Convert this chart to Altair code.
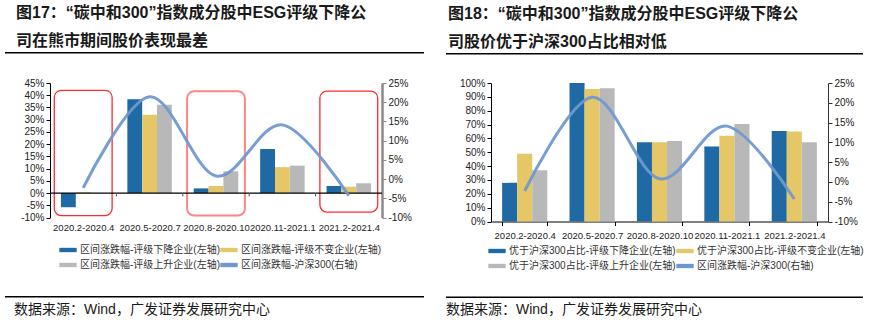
import altair as alt
import pandas as pd

categories = ["2020.2-2020.4", "2020.5-2020.7", "2020.8-2020.10", "2020.11-2021.1", "2021.2-2021.4"]

# Figure 17: interval returns (%) - left axis
f17_down = [-5.8, 38.4, 1.9, 18.0, 2.9]
f17_same = [0.3, 32.0, 2.9, 10.6, 2.6]
f17_up = [0.0, 36.1, 8.9, 11.2, 4.0]
# Figure 18: share outperforming HS300 (%) - left axis
f18_down = [27.9, 100.0, 57.2, 54.1, 65.4]
f18_same = [49.0, 95.7, 57.2, 62.0, 64.9]
f18_up = [37.0, 96.2, 58.2, 70.4, 57.2]
# HS300 interval return (%) - right axis
hs300 = [-2.3, 21.4, 0.8, 14.1, -4.3]

f17_series = ["区间涨跌幅-评级下降企业(左轴)", "区间涨跌幅-评级不变企业(左轴)",
              "区间涨跌幅-评级上升企业(左轴)", "区间涨跌幅-沪深300(右轴)"]
f18_series = ["优于沪深300占比-评级下降企业(左轴)", "优于沪深300占比-评级不变企业(左轴)",
              "优于沪深300占比-评级上升企业(左轴)", "区间涨跌幅-沪深300(右轴)"]

f17_title = ["图17：“碳中和300”指数成分股中ESG评级下降公", "司在熊市期间股价表现最差"]
f18_title = ["图18：“碳中和300”指数成分股中ESG评级下降公", "司股价优于沪深300占比相对低"]
source_text = "数据来源：Wind，广发证券发展研究中心"

# highlight boxes in figure 17 (left-axis units)
box_cats = [categories[0], categories[2], categories[4]]
box_top = [42.0, 41.6, 41.7]
box_bottom = [-9.2, -9.2, -7.8]
box_colors = ["#FF2B2B", "#FF8585", "#FF2B2B"]
box_strokes = [1.3, 2.0, 1.3]

# figure 17 baseline band and the small ticks under it (left-axis units)
zero_hi = 0.25
zero_lo = -0.25
zero_tick_lo = -1.4

f17_left_ticks = list(range(-10, 50, 5))
f18_left_ticks = list(range(0, 110, 10))
right_ticks = list(range(-10, 30, 5))

colors = ["#1F69A4", "#E5C767", "#B8B8B8", "#7098D0"]
FONT = "Liberation Sans, Noto Sans CJK SC"
LINE_KEY = "区间涨跌幅-沪深300(右轴)"
PAD_IN = 0.33
PAD_OUT = 0.165


def make_legend(lx, ly, enc_mode):
    kw = dict(title=None, orient="none", legendX=lx, legendY=ly, columns=2, direction="horizontal",
              symbolType="M-1,-0.25H1V0.25H-1Z", symbolSize=300, symbolStrokeWidth=0,
              labelFont=FONT, labelFontSize=10, labelColor="#333333", labelLimit=400,
              columnPadding=0, rowPadding=1, labelOffset=3)
    expr = ("datum.value === '" + LINE_KEY + "' ? 'M-1,-0.08H1V0.08H-1Z' : 'M-1,-0.25H1V0.25H-1Z'")
    if enc_mode == "flat":
        kw["encode"] = {"symbols": {"shape": {"signal": expr}}}
    elif enc_mode == "update":
        kw["encode"] = {"symbols": {"update": {"shape": {"signal": expr}}}}
    return alt.Legend(**kw)


def panel(series, down, same, up, left_domain, left_ticks, W, H, title, title_dx,
          lx, ly, deco, fig17, enc_mode):
    rows = []
    for i, c in enumerate(categories):
        for s, vals in zip(series[:3], (down, same, up)):
            rows.append({"cat": c, "series": s, "value": vals[i]})
    bars_df = pd.DataFrame(rows)
    line_df = pd.DataFrame({"cat": categories, "series": series[3], "value": hs300})

    def xscale():
        return alt.Scale(type="band", domain=categories, paddingInner=PAD_IN, paddingOuter=PAD_OUT)

    def xscale_full():
        return alt.Scale(type="band", domain=categories, paddingInner=0, paddingOuter=0)

    def lscale():
        return alt.Scale(domain=left_domain, nice=False, zero=False)

    rscale = alt.Scale(domain=[-10, 25], nice=False, zero=False)
    group_w = W / (len(categories) - PAD_IN + 2 * PAD_OUT) * (1 - PAD_IN)

    xaxis = alt.Axis(title=None, orient="bottom", labelAngle=0, labelFont=FONT, labelFontSize=9.5,
                     labelColor="#222222", labelPadding=5, labelLimit=200, grid=False,
                     domain=not fig17, domainColor="black", domainWidth=1,
                     ticks=not fig17, tickBand="extent", tickColor="black", tickSize=4)
    yl = alt.Axis(title=None, values=left_ticks, labelExpr="datum.value + '%'",
                  labelFont=FONT, labelFontSize=10, labelColor="#222222", grid=False,
                  domainColor="black", tickColor="black", tickSize=4, labelPadding=2)
    rcol = "#8A8A8A" if fig17 else "#333333"
    yr = alt.Axis(title=None, orient="right", values=right_ticks, labelExpr="datum.value + '%'",
                  labelFont=FONT, labelFontSize=10, labelColor="#222222", grid=False,
                  domainColor=rcol, domainWidth=2.5 if fig17 else 1,
                  tickColor=rcol, tickSize=4, labelPadding=2)

    layers = []
    if fig17:
        box_df = pd.DataFrame({"cat": box_cats, "top": box_top, "bottom": box_bottom,
                               "col": box_colors, "sw": box_strokes})
        rects = alt.Chart(box_df).mark_rect(
            fill="transparent", cornerRadius=7, width=alt.RelativeBandSize(1.3)
        ).encode(
            x=alt.X("cat:N", scale=xscale(), axis=None, sort=categories),
            y=alt.Y("top:Q", scale=lscale(), axis=None),
            y2="bottom:Q",
            stroke=alt.Stroke("col:N", scale=None),
            strokeWidth=alt.StrokeWidth("sw:Q", scale=None),
        )
        layers.append(rects)

    bars = alt.Chart(bars_df).mark_bar().encode(
        x=alt.X("cat:N", scale=xscale(), axis=xaxis, sort=categories),
        xOffset=alt.XOffset("series:N",
                            scale=alt.Scale(type="band", domain=series[:3], range=[0, group_w],
                                            paddingInner=0, paddingOuter=0),
                            sort=series[:3]),
        y=alt.Y("value:Q", scale=lscale(), axis=yl),
        color=alt.Color("series:N", scale=alt.Scale(domain=series, range=colors),
                        legend=make_legend(lx, ly, enc_mode)),
    )
    layers.append(bars)

    if fig17:
        # baseline at 0: one thin black cell per category, edge to edge
        base_df = pd.DataFrame({"cat": categories, "hi": [zero_hi] * len(categories),
                                "lo": [zero_lo] * len(categories)})
        baseline = alt.Chart(base_df).mark_rect(color="#000000").encode(
            x=alt.X("cat:N", scale=xscale_full(), axis=None, sort=categories),
            y=alt.Y("hi:Q", scale=lscale(), axis=None),
            y2="lo:Q",
        )
        tick_df = pd.DataFrame({"cat": categories[1:], "hi": [0.0] * 4,
                                "lo": [zero_tick_lo] * 4})
        base_ticks = alt.Chart(tick_df).mark_rule(color="#555555", strokeWidth=1).encode(
            x=alt.X("cat:N", scale=xscale_full(), axis=None, sort=categories, bandPosition=0),
            y=alt.Y("hi:Q", scale=lscale(), axis=None),
            y2="lo:Q",
        )
        layers += [baseline, base_ticks]

    line = alt.Chart(line_df).mark_line(interpolate="cardinal", strokeWidth=3,
                                        color=colors[3], opacity=0.95).encode(
        x=alt.X("cat:N", scale=xscale(), axis=None, sort=categories),
        y=alt.Y("value:Q", scale=rscale, axis=yr),
    )
    layers.append(line)

    one = pd.DataFrame({"k": [0]})
    top_y, bot_y, x0, x1, tx, ty = deco
    rule_top = alt.Chart(one).mark_rule(color="black", strokeWidth=1.5).encode(
        x=alt.value(x0), x2=alt.value(x1), y=alt.value(top_y))
    rule_bot = alt.Chart(one).mark_rule(color="black", strokeWidth=1.5).encode(
        x=alt.value(x0), x2=alt.value(x1), y=alt.value(bot_y))
    src = alt.Chart(one).mark_text(align="left", baseline="middle", font=FONT, fontSize=14,
                                   color="#1a1a1a").encode(
        x=alt.value(tx), y=alt.value(ty), text=alt.value(source_text))
    layers += [rule_top, rule_bot, src]

    return alt.layer(*layers).resolve_scale(x="independent", y="independent").properties(
        width=W, height=H,
        title=alt.TitleParams(text=title, anchor="start", frame="group", dx=title_dx, offset=3,
                              font=FONT, fontSize=16, fontWeight="bold", color="#1a1a1a",
                              lineHeight=28),
    )


def build(enc_mode):
    p1 = panel(f17_series, f17_down, f17_same, f17_up, [-10, 45], f17_left_ticks,
               332, 134.5, f17_title, -34, 9, 158, (-30.2, 213.8, -45, 374, -36, 226.5), True, enc_mode)
    p2 = panel(f18_series, f18_down, f18_same, f18_up, [0, 100], f18_left_ticks,
               337, 138.5, f18_title, -43, -3, 159, (-29.3, 214.3, -45, 372, -45, 227), False, enc_mode)
    ch = alt.hconcat(p1, p2, spacing=20).resolve_scale(
        color="independent", xOffset="independent").configure_view(
        stroke=None).properties(padding={"left": 4, "top": 5, "right": 0, "bottom": 0})
    ch.to_dict()
    return ch


chart = None
for mode in ("flat", "update", None):
    try:
        chart = build(mode)
        break
    except Exception:
        chart = None
if chart is None:
    chart = build(None)

chart.save("out.html", embed_options={"renderer": "svg", "actions": False})
